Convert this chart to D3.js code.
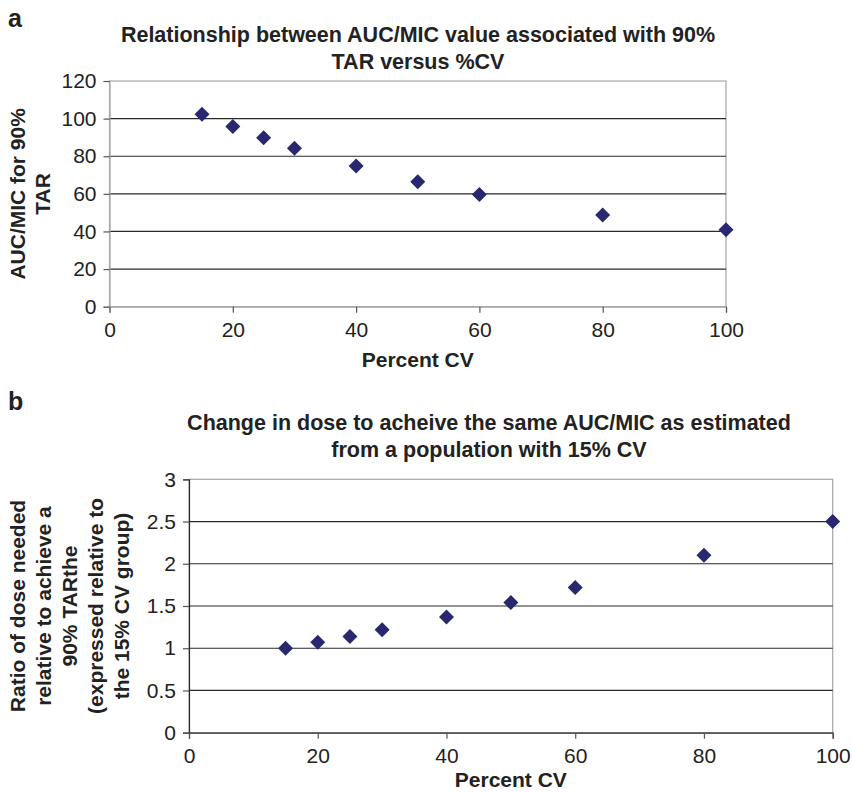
<!DOCTYPE html>
<html lang="en">
<head>
  <meta charset="UTF-8">
  <title>AUC/MIC versus %CV</title>
  <script src="https://d3js.org/d3.v7.min.js"></script>
  <style>
    body {
      margin: 0;
      background: #fff;
      font-family: "Liberation Sans", Arial, Helvetica, sans-serif;
    }
    .tick text { fill: #222; }
    .title, .axis-title, .panel-label { font-weight: bold; fill: #222; }
  </style>
</head>
<body>
<div id="chart"></div>
<script>
// values
const cvValues = [15, 20, 25, 30, 40, 50, 60, 80, 100];
const aucMicFor90 = [102.3, 95.8, 89.8, 84.3, 74.8, 66.4, 59.6, 48.8, 40.9];
const doseRatio = [1.0, 1.07, 1.14, 1.22, 1.37, 1.54, 1.72, 2.1, 2.5];

const xTicks = [0, 20, 40, 60, 80, 100];
const yTicksA = [0, 20, 40, 60, 80, 100, 120];
const yTicksB = [0, 0.5, 1, 1.5, 2, 2.5, 3];

const titleA = ["Relationship between AUC/MIC value associated with 90%", "TAR versus %CV"];
const titleB = ["Change in dose to acheive the same AUC/MIC as estimated", "from a population with 15% CV"];
const yTitleA = ["AUC/MIC for 90%", "TAR"];
const yTitleB = ["Ratio of dose needed", "relative to achieve a", "90% TARthe", "(expressed relative to", "the 15% CV group)"];

const svg = d3.select("#chart").append("svg")
    .attr("width", 852)
    .attr("height", 792);

const markerColor = "#28286f";

function drawPanel(p) {
  const x = d3.scaleLinear().domain([0, 100]).range([p.left, p.right]);
  const y = d3.scaleLinear().domain(p.yDomain).range([p.bottom, p.top]);
  const g = svg.append("g");

  // panel letter
  g.append("text").attr("class", "panel-label")
      .attr("x", 8).attr("y", p.labelY)
      .style("font-size", "25px")
      .text(p.label);

  // title, two centred lines
  g.selectAll(".title").data(p.title).enter().append("text")
      .attr("class", "title")
      .attr("x", p.titleX)
      .attr("y", (d, i) => p.titleY + i * 27)
      .attr("text-anchor", "middle")
      .style("font-size", "21.5px")
      .text(d => d);

  // frame
  g.append("rect")
      .attr("x", p.left).attr("y", p.top)
      .attr("width", p.right - p.left).attr("height", p.bottom - p.top)
      .attr("fill", "none").attr("stroke", "#a6a6a6").attr("stroke-width", 1.2);

  // horizontal gridlines
  g.selectAll(".grid").data(p.yTicks.slice(1, -1)).enter().append("line")
      .attr("x1", p.left).attr("x2", p.right)
      .attr("y1", d => y(d)).attr("y2", d => y(d))
      .attr("stroke", "#2a2a2a").attr("stroke-width", 1.2);

  // axes
  const yAxis = g.append("g")
      .attr("transform", `translate(${p.left},0)`)
      .call(d3.axisLeft(y).tickValues(p.yTicks).tickSize(6).tickPadding(7)
        .tickFormat(d3.format("")));
  const xAxis = g.append("g")
      .attr("transform", `translate(0,${p.bottom})`)
      .call(d3.axisBottom(x).tickValues(xTicks).tickSize(6).tickPadding(9));

  [yAxis, xAxis].forEach(a => {
    a.select(".domain").attr("stroke", p.axisColor).attr("stroke-width", 1.2);
    a.selectAll(".tick line").attr("stroke", "#555").attr("stroke-width", 1.2);
    a.selectAll(".tick text")
        .style("font-size", "21px")
        .style("font-family", "'Liberation Sans', Arial, sans-serif")
        .attr("fill", "#222");
  });

  // x axis title
  g.append("text").attr("class", "axis-title")
      .attr("x", (p.left + p.right) / 2).attr("y", p.xTitleY)
      .attr("text-anchor", "middle")
      .style("font-size", "21px")
      .text("Percent CV");

  // y axis title (rotated, several lines)
  const cy = (p.top + p.bottom) / 2;
  g.selectAll(".ytitle").data(p.yTitle).enter().append("text")
      .attr("class", "axis-title")
      .attr("transform", (d, i) => `translate(${p.yTitleX + i * p.yTitleStep},${cy}) rotate(-90)`)
      .attr("dy", "0.35em")
      .attr("text-anchor", "middle")
      .style("font-size", "21px")
      .text(d => d);

  // diamond markers
  const r = 7.5;
  g.selectAll(".pt").data(cvValues).enter().append("path")
      .attr("d", `M0,${-r}L${r},0L0,${r}L${-r},0Z`)
      .attr("transform", (d, i) => `translate(${x(d)},${y(p.values[i])})`)
      .attr("fill", markerColor);
}

drawPanel({
  label: "a", labelY: 27,
  title: titleA, titleX: 418, titleY: 42,
  left: 109.5, right: 726, top: 81, bottom: 306.7,
  yDomain: [0, 120], yTicks: yTicksA, values: aucMicFor90,
  axisColor: "#a6a6a6",
  xTitleY: 367,
  yTitle: yTitleA, yTitleX: 18, yTitleStep: 25
});

drawPanel({
  label: "b", labelY: 410,
  title: titleB, titleX: 489, titleY: 430,
  left: 189, right: 832.7, top: 479.3, bottom: 732.7,
  yDomain: [0, 3], yTicks: yTicksB, values: doseRatio,
  axisColor: "#2a2a2a",
  xTitleY: 787,
  yTitle: yTitleB, yTitleX: 18, yTitleStep: 26
});
</script>
</body>
</html>
